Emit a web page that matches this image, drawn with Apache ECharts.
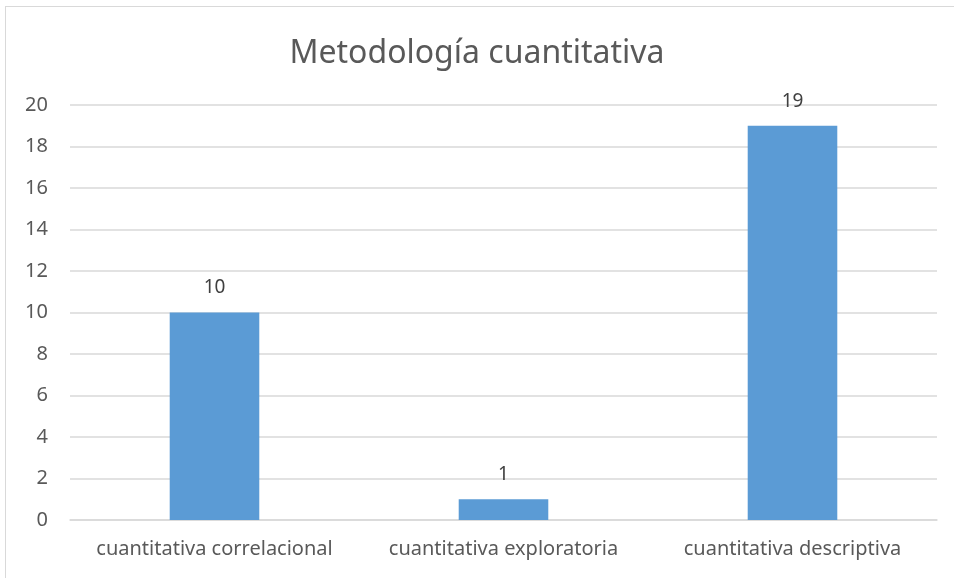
<!DOCTYPE html>
<html>
<head>
<meta charset="utf-8">
<script src="https://cdn.jsdelivr.net/npm/echarts@6/dist/echarts.min.js"></script>
<style>
html,body{margin:0;padding:0;background:#fff;overflow:hidden;}
#frame{position:absolute;left:5px;top:6px;width:970px;height:600px;border:1px solid #d9d9d9;}
#demo{position:absolute;left:0;top:0;width:954px;height:578px;}
</style>
</head>
<body>
<div id="frame"></div>
<div id="demo"></div>
<script>
// datos del grafico
var categorias = ["cuantitativa correlacional", "cuantitativa exploratoria", "cuantitativa descriptiva"];
var valores = [10, 1, 19];

var myChart = echarts.init(document.getElementById("demo"));
var option = {
    backgroundColor: 'transparent',
    title: {
        text: 'Metodología cuantitativa',
        left: 'center',
        top: 33,
        textStyle: {
            color: '#595959',
            fontSize: 32,
            fontWeight: 'normal',
            fontFamily: 'Noto Sans'
        }
    },
    grid: {
        left: 70,
        right: 17,
        top: 105,
        bottom: 58
    },
    xAxis: {
        type: 'category',
        data: categorias,
        axisLine: {lineStyle: {color: '#d9d9d9', width: 1.5}},
        axisTick: {show: false},
        axisLabel: {
            interval: 0,
            color: '#595959',
            fontSize: 20,
            fontFamily: 'Noto Sans',
            margin: 19
        }
    },
    yAxis: {
        type: 'value',
        min: 0,
        max: 20,
        interval: 2,
        axisLine: {show: false},
        axisTick: {show: false},
        splitLine: {lineStyle: {color: '#d9d9d9', width: 1.5}},
        axisLabel: {
            color: '#595959',
            fontSize: 20,
            fontFamily: 'Noto Sans',
            margin: 22
        }
    },
    series: [{
        type: 'bar',
        data: valores,
        barWidth: '31%',
        itemStyle: {color: '#5B9BD5'},
        label: {
            show: true,
            position: 'top',
            distance: 15,
            color: '#404040',
            fontSize: 19,
            fontFamily: 'Noto Sans'
        }
    }]
};
myChart.setOption(option);
</script>
</body>
</html>
